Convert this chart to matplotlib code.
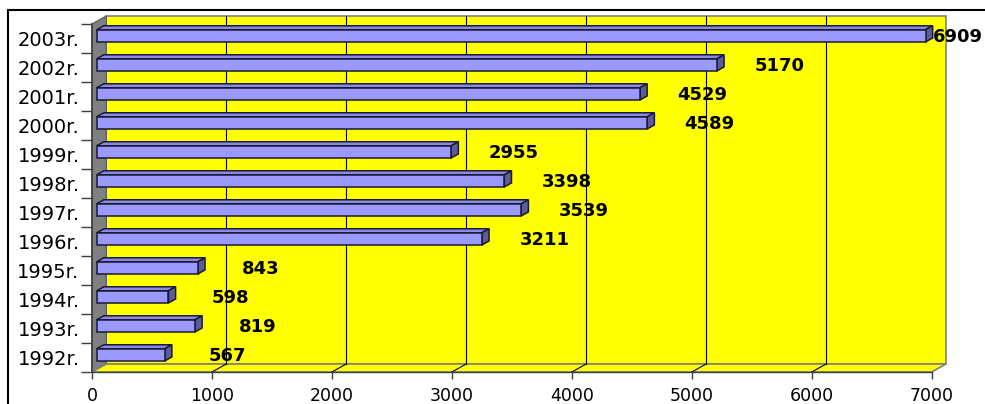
import matplotlib
matplotlib.use("Agg")
import matplotlib.pyplot as plt
from matplotlib.patches import Polygon, Rectangle
from matplotlib.lines import Line2D

# ---- data ----
years = ["1992r.", "1993r.", "1994r.", "1995r.", "1996r.", "1997r.",
         "1998r.", "1999r.", "2000r.", "2001r.", "2002r.", "2003r."]
values = [567, 819, 598, 843, 3211, 3539, 3398, 2955, 4589, 4529, 5170, 6909]
xticks = [0, 1000, 2000, 3000, 4000, 5000, 6000, 7000]

W, H = 985, 404
fig = plt.figure(figsize=(W / 100, H / 100), dpi=100)
fig.patch.set_facecolor("white")

# front plane in pixels
x0p, x1p = 92, 931.7
ytop_p, ybot_p = 24, 372
ax = fig.add_axes([x0p / W, 1 - ybot_p / H, (x1p - x0p) / W, (ybot_p - ytop_p) / H])
ax.set_xlim(0, 7000)
ax.set_ylim(-0.5, 11.5)
ax.patch.set_visible(False)
for s in ax.spines.values():
    s.set_visible(False)

n = len(years)
ppu_x = (x1p - x0p) / 7000.0
ppu_y = (ybot_p - ytop_p) / n
DX = 14.3 / ppu_x          # depth offset in data units
DY = 8.0 / ppu_y

YEL = "#FFFF00"
GREY = "#808080"
xmin, xmax = 0, 7000
ymin, ymax = -0.5, 11.5

# back wall
ax.add_patch(Polygon([(xmin + DX, ymin + DY), (xmax + DX, ymin + DY),
                      (xmax + DX, ymax + DY), (xmin + DX, ymax + DY)],
                     closed=True, facecolor=YEL, edgecolor=GREY, lw=1.2,
                     clip_on=False, zorder=1))
# left wall
ax.add_patch(Polygon([(xmin, ymin), (xmin + DX, ymin + DY),
                      (xmin + DX, ymax + DY), (xmin, ymax)],
                     closed=True, facecolor=GREY, edgecolor="#606060", lw=1.0,
                     clip_on=False, zorder=1))
# floor
ax.add_patch(Polygon([(xmin, ymin), (xmax, ymin), (xmax + DX, ymin + DY),
                      (xmin + DX, ymin + DY)],
                     closed=True, facecolor=YEL, edgecolor=GREY, lw=1.2,
                     clip_on=False, zorder=1))

# gridlines on back wall and floor
for t in xticks[1:-1]:
    ax.add_line(Line2D([t + DX, t + DX], [ymin + DY, ymax + DY], color="black",
                       lw=0.8, clip_on=False, zorder=2))
    ax.add_line(Line2D([t, t + DX], [ymin, ymin + DY], color="black",
                       lw=0.8, clip_on=False, zorder=2))

# axis lines
ax.add_line(Line2D([xmin, xmin], [ymin, ymax], color="#404040", lw=1.2,
                   clip_on=False, zorder=3))
ax.add_line(Line2D([xmin, xmax], [ymin, ymin], color="#404040", lw=1.0,
                   clip_on=False, zorder=3))

# bars
f0 = 0.33     # front face depth fraction
fd = 0.50     # bar depth fraction
h = 0.42
FACE = "#9999FF"
SIDE = "#5C5C99"
TOP = "#8A8AE6"
EDGE = "#1A1A33"
for i, v in enumerate(values):
    xa = f0 * DX
    xb = v + f0 * DX
    yc = i + f0 * DY
    yb, yt = yc - h / 2, yc + h / 2
    ddx, ddy = fd * DX, fd * DY
    ax.add_patch(Polygon([(xa, yt), (xb, yt), (xb + ddx, yt + ddy), (xa + ddx, yt + ddy)],
                         closed=True, facecolor=TOP, edgecolor=EDGE, lw=1.1,
                         clip_on=False, zorder=4))
    ax.add_patch(Polygon([(xb, yb), (xb, yt), (xb + ddx, yt + ddy), (xb + ddx, yb + ddy)],
                         closed=True, facecolor=SIDE, edgecolor=EDGE, lw=1.1,
                         clip_on=False, zorder=4))
    ax.add_patch(Rectangle((xa, yb), xb - xa, yt - yb, facecolor=FACE,
                           edgecolor=EDGE, lw=1.1, clip_on=False, zorder=5))
    lx = min(v + 560, 7215)
    ax.text(lx, i + 0.13, str(v), ha="center", va="center_baseline",
            fontsize=13, fontweight="bold", family="DejaVu Sans",
            color="black", zorder=6, clip_on=False)

# ticks
ax.set_xticks(xticks)
ax.set_xticklabels([str(t) for t in xticks], fontsize=12.5, family="DejaVu Sans")
ax.tick_params(axis="x", direction="out", length=5, width=1, color="#404040",
               pad=6)
ax.set_yticks(range(n))
ax.set_yticklabels(years, fontsize=14, family="DejaVu Sans")
ax.tick_params(axis="y", which="major", length=0, pad=9)
ax.set_yticks([k - 0.5 for k in range(n + 1)], minor=True)
ax.tick_params(axis="y", which="minor", direction="out", length=8, width=1,
               color="#404040")

# outer frame (cropped chart border)
fig.add_artist(Line2D([8 / W, 8 / W], [0, 1 - 10 / H], transform=fig.transFigure,
                      color="black", lw=1.5))
fig.add_artist(Line2D([8 / W, 1], [1 - 10 / H, 1 - 10 / H], transform=fig.transFigure,
                      color="black", lw=1.5))

fig.savefig("out.png", dpi=100)
